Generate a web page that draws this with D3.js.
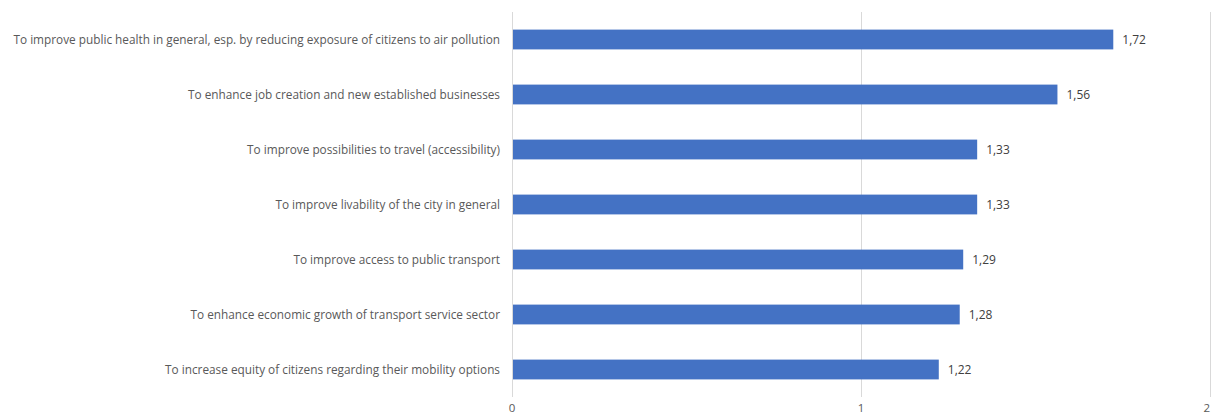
<!DOCTYPE html>
<html>
<head>
<meta charset="utf-8">
<script src="https://cdn.jsdelivr.net/npm/d3@7"></script>
<style>
  body { margin: 0; background: #fff; }
  text { font-family: "Open Sans", "Liberation Sans", sans-serif; fill: #595959; }
</style>
</head>
<body>
<div id="chart"></div>
<script>
const categories = [
  "To improve public health in general, esp. by reducing exposure of citizens to air pollution",
  "To enhance job creation and new established businesses",
  "To improve possibilities to travel (accessibility)",
  "To improve livability of the city in general",
  "To improve access to public transport",
  "To enhance economic growth of transport service sector",
  "To increase equity of citizens regarding their mobility options"
];
const values = [1.72, 1.56, 1.33, 1.33, 1.29, 1.28, 1.22];
const xTicks = [0, 1, 2];

const width = 1213, height = 417;
const margin = {top: 12, right: 3, bottom: 20, left: 512};

const svg = d3.select("#chart").append("svg")
  .attr("width", width).attr("height", height);

const x = d3.scaleLinear().domain([0, 2])
  .range([margin.left, width - margin.right]);
const y = d3.scaleBand().domain(categories)
  .range([margin.top, height - margin.bottom])
  .paddingInner(0.64).paddingOuter(0.32);

// gridlines
svg.append("g")
  .selectAll("line")
  .data(xTicks)
  .join("line")
  .attr("x1", d => Math.round(x(d)) + 0.5)
  .attr("x2", d => Math.round(x(d)) + 0.5)
  .attr("y1", margin.top)
  .attr("y2", height - margin.bottom)
  .attr("stroke", "#d9d9d9");

// x tick labels, at the bottom edge; last one kept inside the frame
svg.append("g")
  .selectAll("text")
  .data(xTicks)
  .join("text")
  .attr("x", d => x(d))
  .attr("y", 412)
  .attr("text-anchor", (d, i) => i === xTicks.length - 1 ? "end" : "middle")
  .attr("font-size", 11.5)
  .text(d => d);

// bars
svg.append("g")
  .selectAll("rect")
  .data(values)
  .join("rect")
  .attr("x", x(0) + 1)
  .attr("y", (d, i) => y(categories[i]))
  .attr("width", d => x(d) - x(0))
  .attr("height", y.bandwidth())
  .attr("fill", "#4472c4");

// value labels
const fmt = v => d3.format(".2f")(v).replace(".", ",");
svg.append("g")
  .selectAll("text")
  .data(values)
  .join("text")
  .attr("x", d => x(d) + 10)
  .attr("y", (d, i) => y(categories[i]) + y.bandwidth() / 2)
  .attr("dy", "0.35em")
  .attr("font-size", 12)
  .style("fill", "#404040")
  .text(fmt);

// category labels
svg.append("g")
  .selectAll("text")
  .data(categories)
  .join("text")
  .attr("x", margin.left - 12)
  .attr("y", d => y(d) + y.bandwidth() / 2)
  .attr("dy", "0.35em")
  .attr("text-anchor", "end")
  .attr("font-size", 11.8)
  .text(d => d);
</script>
</body>
</html>
